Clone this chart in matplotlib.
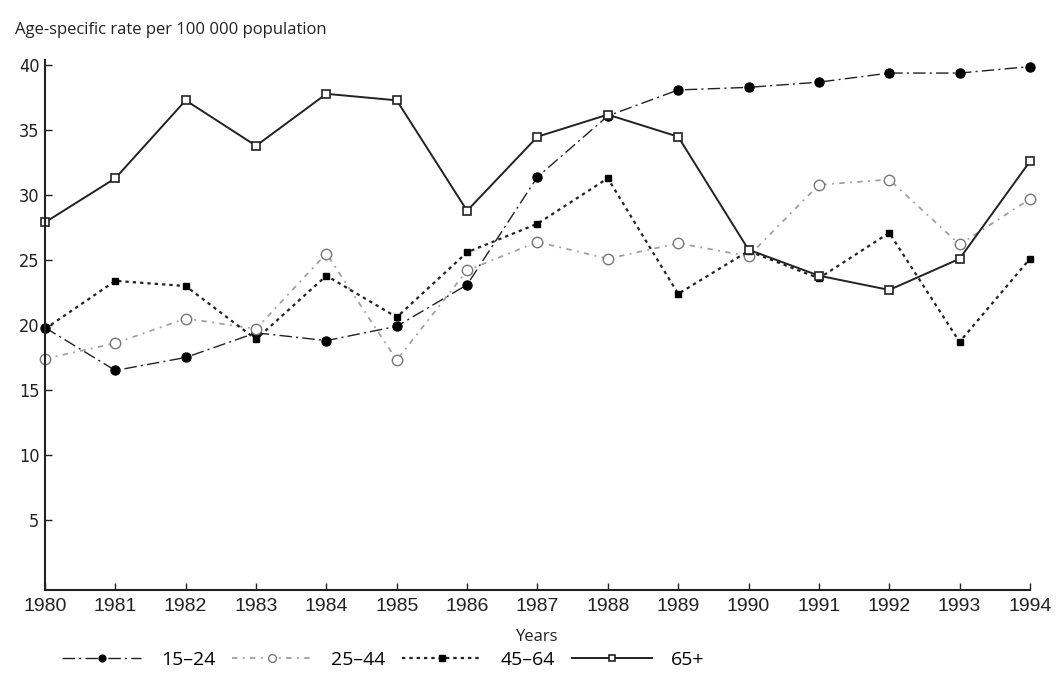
import matplotlib

matplotlib.use("Agg")
import matplotlib.pyplot as plt
from matplotlib.lines import Line2D

years = list(range(1980, 1995))
age_15_24 = [19.8, 16.5, 17.5, 19.4, 18.8, 19.9, 23.1, 31.4, 36.1, 38.1, 38.3, 38.7, 39.4, 39.4, 39.9]
age_25_44 = [17.4, 18.6, 20.5, 19.7, 25.5, 17.3, 24.2, 26.4, 25.1, 26.3, 25.3, 30.8, 31.2, 26.2, 29.7]
age_45_64 = [19.7, 23.4, 23.0, 18.9, 23.8, 20.6, 25.6, 27.8, 31.3, 22.4, 25.7, 23.6, 27.1, 18.7, 25.1]
age_65_plus = [27.9, 31.3, 37.3, 33.8, 37.8, 37.3, 28.8, 34.5, 36.2, 34.5, 25.8, 23.8, 22.7, 25.1, 32.6]
yticks = [5, 10, 15, 20, 25, 30, 35, 40]
labels = ["15\u201324", "25\u201344", "45\u201364", "65+"]

plt.rcParams["font.family"] = ["Open Sans", "DejaVu Sans"]

# line / marker styles per series
styles = [
    dict(color="#222222", lw=1.0, ls=(0, (9, 3, 1.5, 3)), marker="o", mfc="black", mec="black", mew=1.0),
    dict(color="#a0a0a0", lw=1.3, ls=(0, (3, 3, 1, 3)), marker="o", mfc="white", mec="#777777", mew=1.0),
    dict(color="#222222", lw=1.6, ls=(0, (1.5, 1.8)), marker="s", mfc="black", mec="black", mew=1.0),
    dict(color="#222222", lw=1.4, ls="-", marker="s", mfc="white", mec="#222222", mew=1.2),
]
sizes = [6.5, 7.5, 5, 5.5]
series = [age_15_24, age_25_44, age_45_64, age_65_plus]

fig = plt.figure(figsize=(10.63, 6.75), dpi=100)
ax = fig.add_axes([0.0423, 0.126, 0.9266, 0.785])

for vals, st, ms in zip(series, styles, sizes):
    ax.plot(years, vals, ms=ms, clip_on=False, **st)

ax.set_xlim(1980, 1994)
ax.set_ylim(-0.4, 40.4)
ax.set_xticks(years)
ax.set_xticklabels([str(y) for y in years], fontsize=14, family=["Liberation Sans"])
ax.set_yticks(yticks)
ax.set_yticklabels([str(v) for v in yticks], fontsize=13, family=["DejaVu Sans"], fontstretch="condensed")
ax.tick_params(direction="in", length=5, width=1.0, colors="#222222")
ax.tick_params(axis="x", pad=6)
ax.tick_params(axis="y", pad=4)
for side in ["top", "right"]:
    ax.spines[side].set_visible(False)
for side in ["left", "bottom"]:
    ax.spines[side].set_linewidth(1.5)
    ax.spines[side].set_color("#222222")

ax.set_xlabel("Years", fontsize=12, labelpad=10, color="#222222")
fig.text(0.014, 0.955, "Age-specific rate per 100 000 population", fontsize=12, color="#222222",
         ha="left", va="center")

# legend proxies with the smaller markers used in the key
handles = [Line2D([], [], ms=ms * 0.75, **st) for st, ms in zip(styles, sizes)]
fig.legend(handles, labels, loc="center left", bbox_to_anchor=(0.058, 0.022), ncol=4, frameon=False,
           handlelength=4.1, fontsize=14, columnspacing=0.85, handletextpad=1.0,
           borderpad=0, borderaxespad=0)

fig.savefig("out.png", dpi=100)
